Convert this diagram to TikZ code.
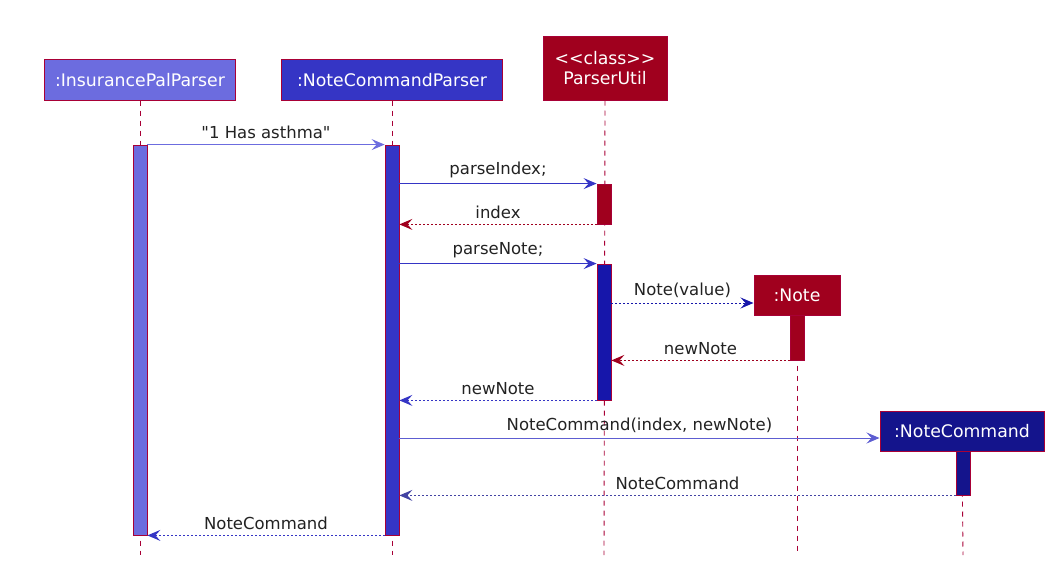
\documentclass[tikz,border=0pt]{standalone}
\usepackage{fontspec}
\setmainfont{DejaVu Sans}
\newfontfamily\dv{DejaVu Sans}
\usetikzlibrary{arrows.meta}
\definecolor{bord}{HTML}{A80036}
\definecolor{ippc}{HTML}{6C6CDF}
\definecolor{ncpc}{HTML}{3535C5}
\definecolor{redc}{HTML}{A0001E}
\definecolor{bluec}{HTML}{1616AA}
\definecolor{navyc}{HTML}{14148C}
\definecolor{txt}{HTML}{222222}
\tikzset{
  part/.style={draw=bord, line width=1pt, text=white, font=\dv\fontsize{17.3}{20}\selectfont, inner sep=0pt, minimum height=40pt, align=center},
  act/.style={draw=bord, line width=0.8pt, minimum width=14pt, inner sep=0pt},
  life/.style={draw=bord, line width=0.9pt, dash pattern=on 5pt off 5pt},
  msg/.style={line width=1pt, -{Stealth[length=13pt,width=11pt,inset=5pt]}},
  ret/.style={msg, dash pattern=on 2pt off 2pt},
  lbl/.style={text=txt, font=\dv\fontsize{16.5}{19}\selectfont, inner sep=0pt}
}
\begin{document}
\begin{tikzpicture}[x=1pt,y=-1pt]
\useasboundingbox (0,0) rectangle (1062,578);
% lifeline ends
\coordinate (e1) at (140,555);
\coordinate (e2) at (392,555);
\coordinate (e3) at (604,555);
\coordinate (e4) at (797,555);
\coordinate (e5) at (963,555);
% participants
\node[part, fill=ippc, minimum width=191pt] (ipp) at (140,80) {:InsurancePalParser};
\node[part, fill=ncpc, minimum width=221pt] (ncp) at (392,80) {:NoteCommandParser};
\node[part, fill=redc, minimum width=124pt, minimum height=63pt] (pu) at (605,68.5) {<{}<class>{}>\\ParserUtil};
\node[part, fill=redc, minimum width=86pt] (note) at (797,295) {:Note};
\node[part, fill=navyc, minimum width=164pt] (nc) at (962,431) {:NoteCommand};
% lifelines
\draw[life] (ipp.south) -- (e1);
\draw[life] (ncp.south) -- (e2);
\draw[life] (pu.south) -- (e3);
\draw[life] (note.south) -- (e4);
\draw[life] (nc.south) -- (e5);
% activations
\node[act, fill=ippc, minimum height=390pt] (ippA) at (140,340) {};
\node[act, fill=ncpc, minimum height=390pt] (ncpA) at (392,340) {};
\node[act, fill=redc, minimum height=40pt] (puA1) at (604,204) {};
\node[act, fill=bluec, minimum height=136pt] (puA2) at (604,332) {};
\node[act, fill=redc, minimum height=45pt] (noteA) at (797,337.5) {};
\node[act, fill=navyc, minimum height=44pt] (ncA) at (963,473) {};
% messages
\draw[msg, draw=ippc] (ippA.north east) -- node[lbl, above=5pt] {"1 Has asthma"} (ncpA.north west);
\draw[msg, draw=ncpc] (ncpA.east |- puA1.north) -- node[lbl, above=5pt] {parseIndex;} (puA1.north west);
\draw[ret, draw=redc] (puA1.south west) -- node[lbl, above=5pt] {index} (ncpA.east |- puA1.south);
\draw[msg, draw=ncpc] (ncpA.east |- puA2.north) -- node[lbl, above=5pt] {parseNote;} (puA2.north west);
\draw[ret, draw=bluec] (puA2.east |- note.center) ++(0,8) coordinate (nv) -- node[lbl, above=5pt] {Note(value)} (note.west |- nv);
\draw[ret, draw=redc] (noteA.south west) -- node[lbl, above=5pt] {newNote} (puA2.east |- noteA.south);
\draw[ret, draw=ncpc] (puA2.south west) -- node[lbl, above=5pt] {newNote} (ncpA.east |- puA2.south);
\draw[msg, draw=ncpc!80!white] (ncpA.east |- nc.center) ++(0,7) coordinate (ncm) -- node[lbl, above=5pt] {NoteCommand(index, newNote)} (nc.west |- ncm);
\draw[ret, draw=navyc!80!white] (ncA.south west) -- node[lbl, above=5pt] {NoteCommand} (ncpA.east |- ncA.south);
\draw[ret, draw=ncpc] (ncpA.south west) -- node[lbl, above=5pt] {NoteCommand} (ippA.south east);
\end{tikzpicture}
\end{document}
